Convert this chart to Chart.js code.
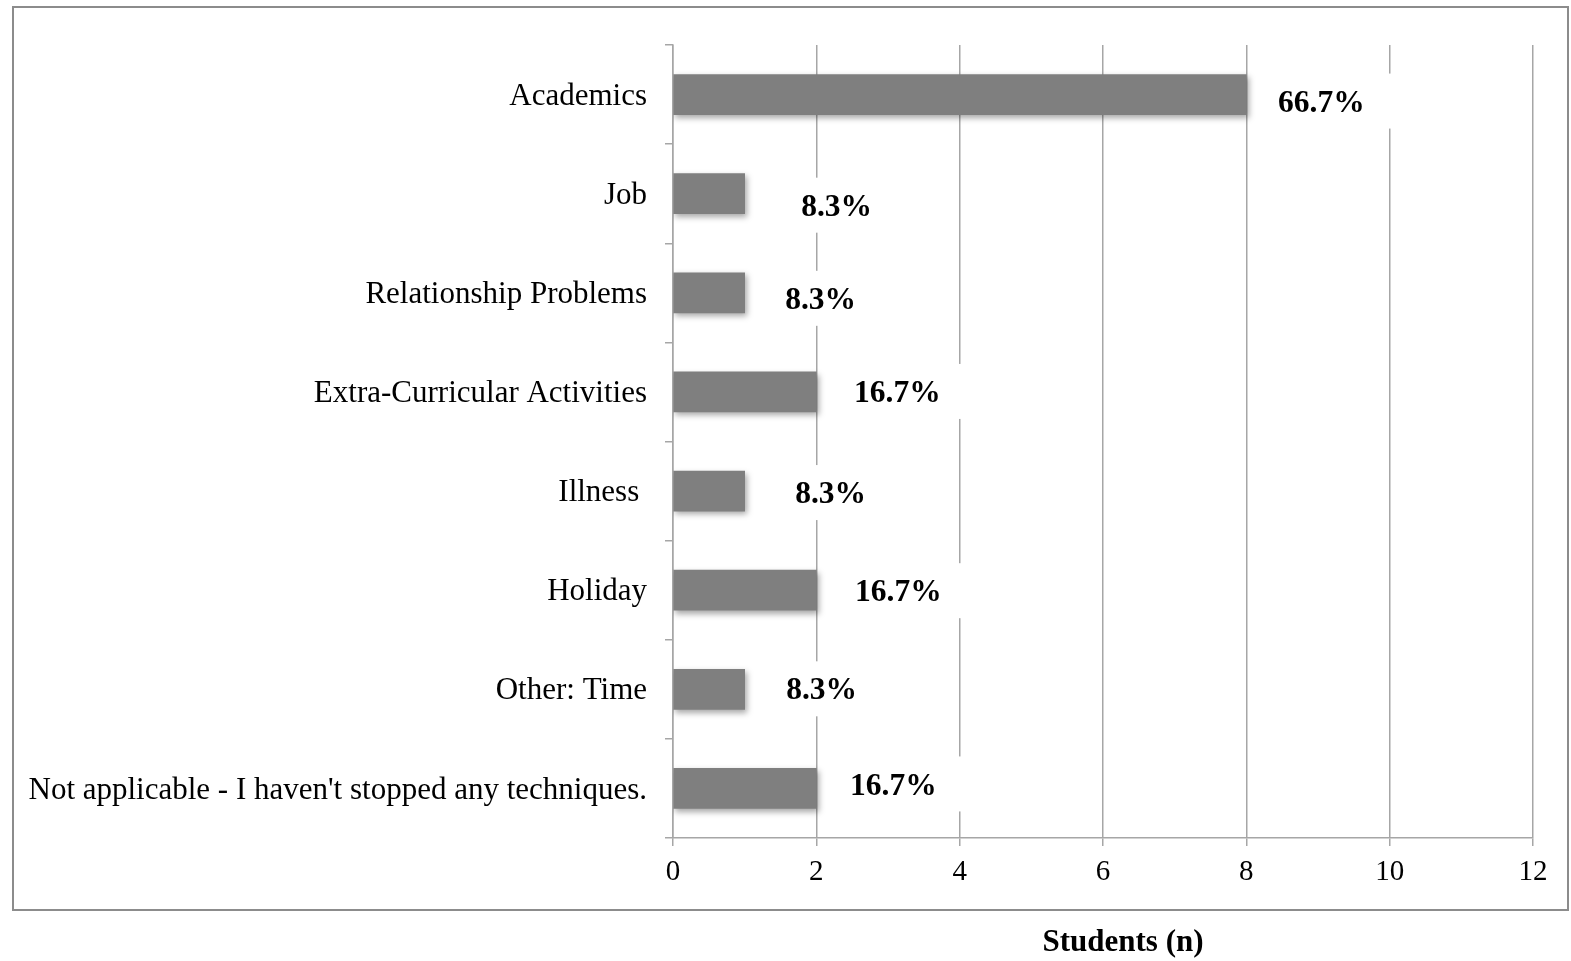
<!DOCTYPE html>
<html>
<head>
<meta charset="utf-8">
<script src="https://cdn.jsdelivr.net/npm/chart.js@4"></script>
<style>
  body { margin: 0; background: #fff; }
  #wrap { position: relative; width: 1571px; height: 961px; }
  #frame {
    position: absolute; left: 12px; top: 6px; width: 1553px; height: 901px;
    border: 2px solid #8c8c8c; pointer-events: none;
  }
</style>
</head>
<body>
<div id="wrap">
  <canvas id="chart" width="1571" height="961"></canvas>
  <div id="frame"></div>
</div>
<script>
const reasons = [
  "Academics",
  "Job",
  "Relationship Problems",
  "Extra-Curricular Activities",
  "Illness ",
  "Holiday",
  "Other: Time",
  "Not applicable - I haven't stopped any techniques."
];
const students = [8, 1, 1, 2, 1, 2, 1, 2];
const respondents = 12;
const xTicks = [0, 2, 4, 6, 8, 10, 12];

// nudge of each percentage label from its bar end, in px
const labelShift = [
  [75, 9], [92, 14], [76, 8], [81, 2], [86, 4], [82, 3], [77, 2], [77, -2]
];

const serif = "'Liberation Serif', 'Times New Roman', serif";
const grey = "#a6a6a6";

// soft drop shadow under the bars
const barShadow = {
  id: "barShadow",
  beforeDatasetDraw(chart) {
    const ctx = chart.ctx;
    ctx.save();
    ctx.shadowColor = "rgba(0,0,0,0.35)";
    ctx.shadowBlur = 6;
    ctx.shadowOffsetX = 2;
    ctx.shadowOffsetY = 3;
  },
  afterDatasetDraw(chart) {
    chart.ctx.restore();
  }
};

// percentage labels on white boxes, plus the axis caption below the frame
const valueLabels = {
  id: "valueLabels",
  afterDatasetsDraw(chart) {
    const ctx = chart.ctx;
    const meta = chart.getDatasetMeta(0);
    ctx.save();
    ctx.font = "bold 31.5px " + serif;
    ctx.textAlign = "center";
    ctx.textBaseline = "middle";
    meta.data.forEach((bar, i) => {
      const text = (students[i] / respondents * 100).toFixed(1) + "%";
      const x = bar.x + labelShift[i][0];
      const y = bar.y + labelShift[i][1];
      const w = ctx.measureText(text).width;
      ctx.fillStyle = "#fff";
      ctx.fillRect(x - w / 2 - 12, y - 30, w + 40, 55);
      ctx.fillStyle = "#000";
      ctx.fillText(text, x, y);
    });
    const area = chart.chartArea;
    ctx.font = "bold 31px " + serif;
    ctx.fillText("Students (n)", (area.left + area.right) / 2 + 20, 943);
    ctx.restore();
  }
};

new Chart(document.getElementById("chart"), {
  type: "bar",
  data: {
    labels: reasons,
    datasets: [{
      data: students,
      backgroundColor: "#7f7f7f",
      barThickness: 40
    }]
  },
  options: {
    indexAxis: "y",
    responsive: false,
    animation: false,
    layout: { padding: { top: 45, right: 38, left: 0, bottom: 0 } },
    plugins: { legend: { display: false }, tooltip: { enabled: false } },
    scales: {
      x: {
        type: "linear",
        min: 0,
        max: 12,
        afterBuildTicks(scale) {
          scale.ticks = xTicks.map(v => ({ value: v }));
        },
        afterFit(scale) { scale.height = 123; },
        grid: { color: grey, lineWidth: 1.5, tickLength: 8 },
        border: { color: grey, width: 1.5 },
        ticks: { color: "#000", padding: 9, font: { family: serif, size: 29 } }
      },
      y: {
        afterFit(scale) { scale.width = 673; },
        grid: { offset: true, drawOnChartArea: false, color: grey, lineWidth: 1.5, tickLength: 8 },
        border: { color: grey, width: 1.5 },
        ticks: { color: "#000", padding: 18, labelOffset: 2, font: { family: serif, size: 31 } }
      }
    }
  },
  plugins: [barShadow, valueLabels]
});
</script>
</body>
</html>
